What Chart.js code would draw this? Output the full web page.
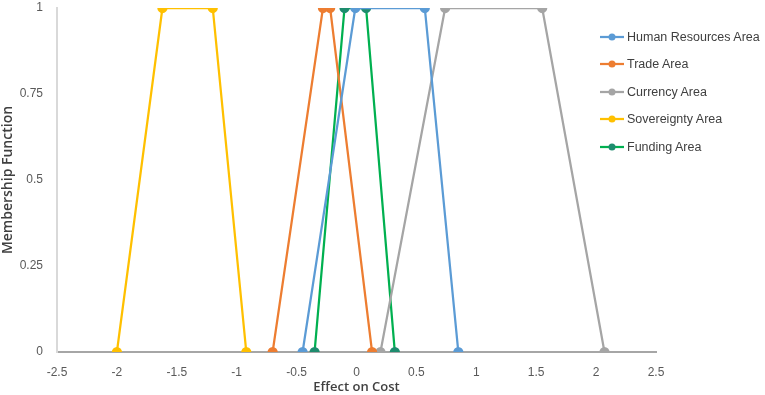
<!DOCTYPE html>
<html>
<head>
<meta charset="utf-8">
<script src="https://cdn.jsdelivr.net/npm/chart.js@4.4.1/dist/chart.umd.min.js"></script>
<style>
  html, body { margin: 0; padding: 0; background: #fff; }
  #wrap { position: relative; width: 765px; height: 395px; }
  #legend { position: absolute; left: 600px; top: 23px; font-family: "Liberation Sans", sans-serif; font-size: 12.5px; color: #404040; white-space: nowrap; }
  #legend div { display: flex; align-items: center; height: 27.5px; }
  #legend canvas { margin-right: 3px; }
</style>
</head>
<body>
<div id="wrap">
  <canvas id="chart" width="765" height="395"></canvas>
  <div id="legend"></div>
</div>
<script>
// series names and colours
const seriesNames = ["Human Resources Area", "Trade Area", "Currency Area", "Sovereignty Area", "Funding Area"];
const lineColors = ["#5B9BD5", "#ED7D31", "#A5A5A5", "#FFC000", "#00B050"];
const pointColors = ["#5B9BD5", "#ED7D31", "#A5A5A5", "#FFC000", "#1E8C6E"];

// effect on cost (x) and membership (y) for each trapezoid
const humanX = [-0.45, -0.01, 0.57, 0.85];
const tradeX = [-0.70, -0.28, -0.22, 0.13];
const currencyX = [0.20, 0.74, 1.55, 2.07];
const sovereigntyX = [-2.00, -1.62, -1.20, -0.92];
const fundingX = [-0.35, -0.10, 0.08, 0.32];
const membership = [0, 1, 1, 0];

const xTicks = [-2.5, -2, -1.5, -1, -0.5, 0, 0.5, 1, 1.5, 2, 2.5];
const yTicks = [0, 0.25, 0.5, 0.75, 1];

const allX = [humanX, tradeX, currencyX, sovereigntyX, fundingX];

const datasets = allX.map((xs, i) => ({
  label: seriesNames[i],
  data: xs.map((x, j) => ({ x: x, y: membership[j] })),
  borderColor: lineColors[i],
  backgroundColor: pointColors[i],
  pointBackgroundColor: pointColors[i],
  pointBorderColor: pointColors[i],
  borderWidth: 2.25,
  pointRadius: 4,
  tension: 0
}));

const tickFont = { family: "'Liberation Sans', sans-serif", size: 12 };
const titleFont = { family: "'Open Sans', sans-serif", size: 13, weight: "600" };

const chart = new Chart(document.getElementById("chart").getContext("2d"), {
  type: "scatter",
  data: { datasets },
  options: {
    responsive: false,
    animation: false,
    showLine: true,
    layout: { padding: { top: 8, right: 109, left: 0, bottom: 0 } },
    plugins: {
      legend: { display: false },
      tooltip: { enabled: false }
    },
    scales: {
      x: {
        type: "linear",
        min: -2.5,
        max: 2.5,
        afterBuildTicks: s => { s.ticks = xTicks.map(v => ({ value: v })); },
        ticks: { callback: v => String(v), color: "#595959", font: tickFont, padding: 13, maxRotation: 0 },
        grid: { display: false, drawTicks: false },
        border: { color: "#A6A6A6", width: 2 },
        title: { display: true, text: "Effect on Cost", color: "#404040", font: titleFont, padding: { top: 0, bottom: 0 } },
        afterFit: s => { s.height = 43; s.paddingLeft = 0; s.paddingRight = 0; }
      },
      y: {
        min: 0,
        max: 1,
        afterBuildTicks: s => { s.ticks = yTicks.map(v => ({ value: v })); },
        ticks: { callback: v => String(v), color: "#595959", font: tickFont, padding: 14 },
        grid: { display: false, drawTicks: false },
        border: { color: "#D9D9D9", width: 2 },
        title: { display: true, text: "Membership Function", color: "#404040", font: { family: titleFont.family, size: 14, weight: "600" }, padding: { top: 0, bottom: 2 } },
        afterFit: s => { s.width = 57; s.paddingTop = 0; s.paddingBottom = 0; }
      }
    }
  }
});

// legend with line + marker samples
const legend = document.getElementById("legend");
datasets.forEach((ds, i) => {
  const row = document.createElement("div");
  const c = document.createElement("canvas");
  c.width = 24; c.height = 10;
  const g = c.getContext("2d");
  g.strokeStyle = ds.borderColor;
  g.lineWidth = 2.25;
  g.beginPath(); g.moveTo(0, 5); g.lineTo(24, 5); g.stroke();
  g.fillStyle = ds.pointBackgroundColor;
  g.beginPath(); g.arc(12, 5, 3.5, 0, Math.PI * 2); g.fill();
  const span = document.createElement("span");
  span.textContent = ds.label;
  row.appendChild(c);
  row.appendChild(span);
  legend.appendChild(row);
});
</script>
</body>
</html>
